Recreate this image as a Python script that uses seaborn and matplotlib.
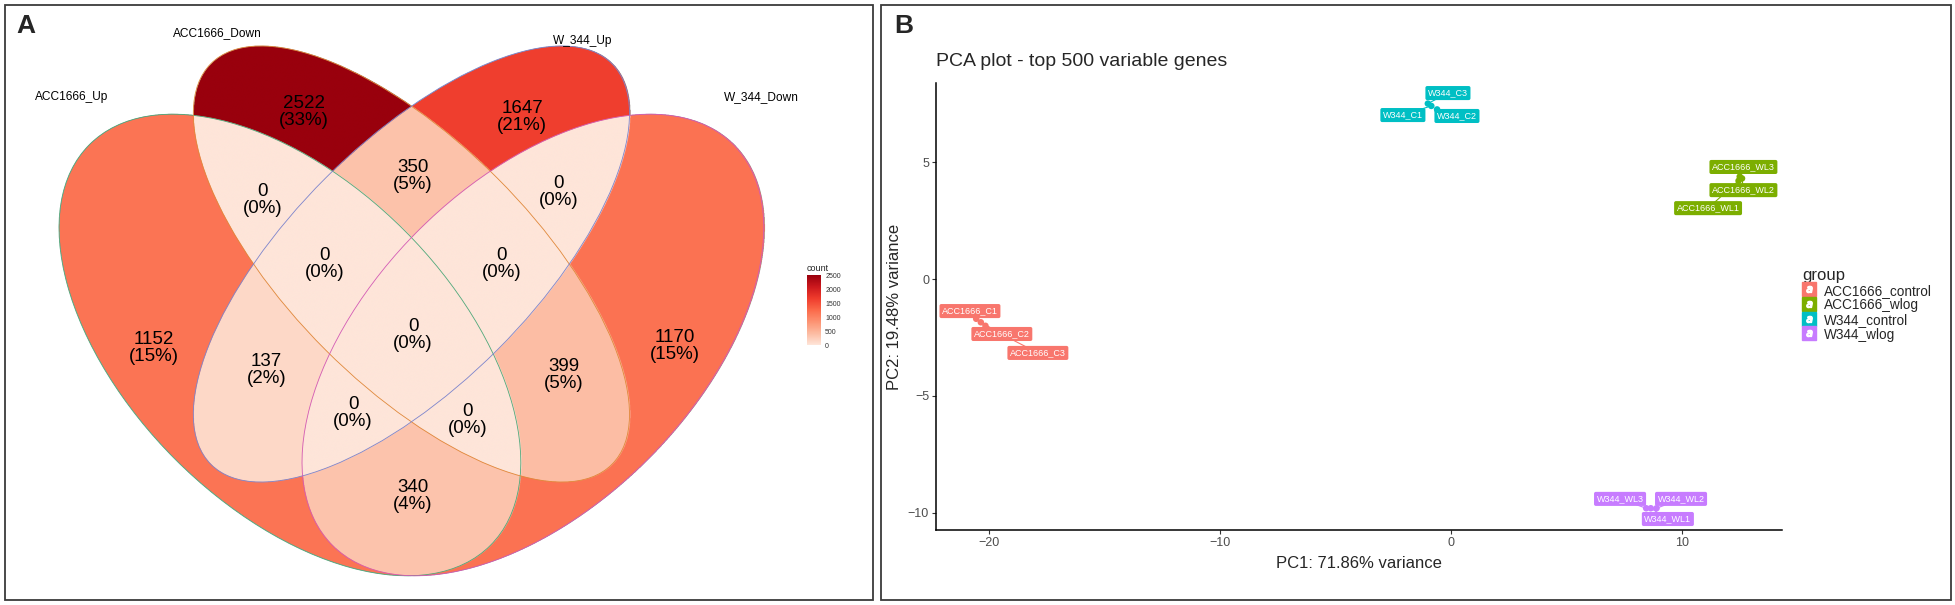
import numpy as np
import pandas as pd
import seaborn as sns
import matplotlib
matplotlib.use('Agg')
import matplotlib.pyplot as plt
from matplotlib.colors import LinearSegmentedColormap, Normalize
from matplotlib.patches import Ellipse, Rectangle
from matplotlib.lines import Line2D
from matplotlib.legend_handler import HandlerTuple
from matplotlib.cm import ScalarMappable

sns.set_style('white')
plt.rcParams['font.family'] = ['Liberation Sans', 'DejaVu Sans']

# ---- Venn data ----
set_names = ['ACC1666_Up', 'ACC1666_Down', 'W_344_Up', 'W_344_Down']
region_sets = ['1', '2', '3', '4', '12', '13', '14', '23', '24', '34',
               '123', '124', '134', '234', '1234']
region_counts = [1152, 2522, 1647, 1170, 0, 137, 340, 350, 399, 0,
                 0, 0, 0, 0, 0]

# ---- PCA data ----
samples = ['ACC1666_C1', 'ACC1666_C2', 'ACC1666_C3',
           'ACC1666_WL1', 'ACC1666_WL2', 'ACC1666_WL3',
           'W344_C1', 'W344_C2', 'W344_C3',
           'W344_WL1', 'W344_WL2', 'W344_WL3']
groups = ['ACC1666_control'] * 3 + ['ACC1666_wlog'] * 3 + ['W344_control'] * 3 + ['W344_wlog'] * 3
pc1 = [-20.55, -20.35, -20.15, 12.45, 12.6, 12.5, -0.85, -0.6, -1.0, 8.65, 8.9, 8.45]
pc2 = [-1.70, -1.85, -2.0, 4.2, 4.3, 4.38, 7.4, 7.25, 7.5, -9.8, -9.8, -9.8]
group_order = ['ACC1666_control', 'ACC1666_wlog', 'W344_control', 'W344_wlog']
group_colors = ['#F8766D', '#7CAE00', '#00BFC4', '#C77CFF']

# label placement (repel-like), layout only
label_pos = {
    'ACC1666_C1': (-20.82, -1.37), 'ACC1666_C2': (-19.44, -2.35), 'ACC1666_C3': (-17.88, -3.16),
    'ACC1666_WL1': (11.13, 3.03), 'ACC1666_WL2': (12.66, 3.80), 'ACC1666_WL3': (12.66, 4.79),
    'W344_C1': (-2.08, 7.01), 'W344_C2': (0.26, 6.97), 'W344_C3': (-0.13, 7.95),
    'W344_WL1': (9.39, -10.26), 'W344_WL2': (9.96, -9.40), 'W344_WL3': (7.32, -9.40),
}

# venn region label placement, layout only
region_label_pos = {
    '1': (0.182, 0.466), '2': (0.367, 0.758), '3': (0.637, 0.751), '4': (0.825, 0.469),
    '12': (0.316, 0.649), '13': (0.321, 0.439), '14': (0.502, 0.283), '23': (0.502, 0.679),
    '24': (0.688, 0.433), '34': (0.682, 0.659), '123': (0.393, 0.570), '124': (0.569, 0.377),
    '134': (0.428, 0.386), '234': (0.611, 0.570), '1234': (0.502, 0.482),
}

W, H = 1955, 605
fig = plt.figure(figsize=(W / 100, H / 100), dpi=100)

# ================= Panel A: Venn =================
ellipses = [  # cx, cy, a, b, angle
    (0.35, 0.47, 0.35, 0.20, 135),
    (0.50, 0.57, 0.35, 0.15, 135),
    (0.50, 0.57, 0.35, 0.15, 45),
    (0.65, 0.47, 0.35, 0.20, 45),
]
edge_colors = ['#4FA87A', '#E0883A', '#7C84CC', '#D35BB5']

axv = fig.add_axes([6.4 / W, 9 / H, 810 / W, 583 / H])
axv.set_xlim(0, 1)
axv.set_ylim(0.16, 0.88)
axv.axis('off')

xs = np.linspace(0.05, 0.95, 2400)
ys = np.linspace(0.17, 0.86, 1840)
X, Y = np.meshgrid(xs, ys)


def inside(cx, cy, a, b, ang):
    t = np.deg2rad(ang)
    dx, dy = X - cx, Y - cy
    u = dx * np.cos(t) + dy * np.sin(t)
    v = -dx * np.sin(t) + dy * np.cos(t)
    return (u / a) ** 2 + (v / b) ** 2 <= 1


code = np.zeros(X.shape, dtype=int)
for i, e in enumerate(ellipses):
    code += inside(*e).astype(int) << i

lut = np.full(16, np.nan)
for s, c in zip(region_sets, region_counts):
    bits = sum(1 << (int(ch) - 1) for ch in s)
    lut[bits] = c
vals = np.ma.masked_invalid(lut[code])

reds = ['#FEE5D9', '#FCBBA1', '#FC9272', '#FB6A4A', '#EF3B2C', '#CB181D', '#99000D']
cmap = LinearSegmentedColormap.from_list('reds', reds)
norm = Normalize(0, max(region_counts))
axv.imshow(vals, extent=(xs[0], xs[-1], ys[0], ys[-1]), origin='lower',
           cmap=cmap, norm=norm, interpolation='antialiased',
           interpolation_stage='rgba', aspect='auto', zorder=1)

for e, ec in zip(ellipses, edge_colors):
    cx, cy, a, b, ang = e
    axv.add_patch(Ellipse((cx, cy), 2 * a, 2 * b, angle=ang, fill=False,
                          ec=ec, lw=0.6, zorder=2))

total = sum(region_counts)
for s, c in zip(region_sets, region_counts):
    lx, ly = region_label_pos[s]
    pct = int(np.round(c / total * 100))
    axv.text(lx, ly, f'{c}\n({pct}%)', ha='center', va='center',
             fontsize=13.5, linespacing=1.0, color='black', zorder=3)

set_label_pos = [(0.081, 0.776), (0.26, 0.855), (0.712, 0.845), (0.932, 0.776)]
for name, (lx, ly) in zip(set_names, set_label_pos):
    axv.text(lx, ly, name, ha='center', va='center', fontsize=8.6, color='black')

cax = fig.add_axes([807 / W, (H - 345) / H, 14 / W, 70 / H])
cb = fig.colorbar(ScalarMappable(norm=norm, cmap=cmap), cax=cax)
cb.outline.set_visible(False)
cb.set_ticks([0, 500, 1000, 1500, 2000, 2500])
cax.tick_params(labelsize=5, length=2, color='white', direction='in', pad=3, labelcolor='#333333')
cax.set_title('count', fontsize=6.5, loc='left', pad=3)

# ================= Panel B: PCA =================
df = pd.DataFrame({'sample': samples, 'group': groups, 'PC1': pc1, 'PC2': pc2})
palette = dict(zip(group_order, group_colors))

axp = fig.add_axes([936 / W, (H - 530) / H, (1782 - 936) / W, (530 - 83) / H])
for _, r in df.iterrows():
    lx, ly = label_pos[r['sample']]
    axp.plot([r['PC1'], lx], [r['PC2'], ly], color=palette[r['group']], lw=0.8, zorder=2)
sns.scatterplot(data=df, x='PC1', y='PC2', hue='group', hue_order=group_order,
                palette=palette, s=22, linewidth=0, legend=False, ax=axp, zorder=3)
for _, r in df.iterrows():
    lx, ly = label_pos[r['sample']]
    axp.text(lx, ly, r['sample'], ha='center', va='center', fontsize=6.5, color='white', zorder=4,
             bbox=dict(boxstyle='round,pad=0.28,rounding_size=0.2', fc=palette[r['group']], ec='none'))

axp.set_xlim(-22.29, 14.33)
axp.set_ylim(-10.73, 8.38)
axp.set_xticks([-20, -10, 0, 10])
axp.set_yticks([-10, -5, 0, 5])
sns.despine(ax=axp)
for sp in ['left', 'bottom']:
    axp.spines[sp].set_color('black')
    axp.spines[sp].set_linewidth(1.1)
axp.tick_params(axis='both', length=3, width=0.8, color='#333333', labelsize=9,
                labelcolor='#4D4D4D', pad=2, bottom=True, left=True)
axp.set_xlabel('PC1: 71.86% variance', fontsize=12, labelpad=5)
axp.set_ylabel('PC2: 19.48% variance', fontsize=12, labelpad=4)
axp.set_title('PCA plot - top 500 variable genes', loc='left', fontsize=14, pad=12)

handles = [(Line2D([], [], marker='s', ms=10.5, color=c, ls=''),
            Line2D([], [], marker='$a$', ms=4.5, color='white', ls=''))
           for c in group_colors]
fig.legend(handles, group_order, handler_map={tuple: HandlerTuple(ndivide=1)},
           title='group', loc='upper left', bbox_to_anchor=(1802 / W, (H - 268) / H),
           frameon=False, fontsize=9.8, title_fontsize=12, alignment='left',
           handlelength=1.0, handleheight=1.0, handletextpad=0.6, labelspacing=0.05,
           borderaxespad=0, borderpad=0)

# panel letters and borders
fig.text(16 / W, 1 - 26 / H, 'A', fontsize=19, fontweight='bold', va='center', ha='left')
fig.text(894 / W, 1 - 26 / H, 'B', fontsize=19, fontweight='bold', va='center', ha='left')
for x0, x1 in [(5, 873), (881, 1951)]:
    fig.patches.append(Rectangle((x0 / W, 5 / H), (x1 - x0) / W, (600 - 5) / H,
                                 transform=fig.transFigure, fill=False,
                                 ec='#3a3a3a', lw=1.3))

fig.savefig('out.png', dpi=100)
